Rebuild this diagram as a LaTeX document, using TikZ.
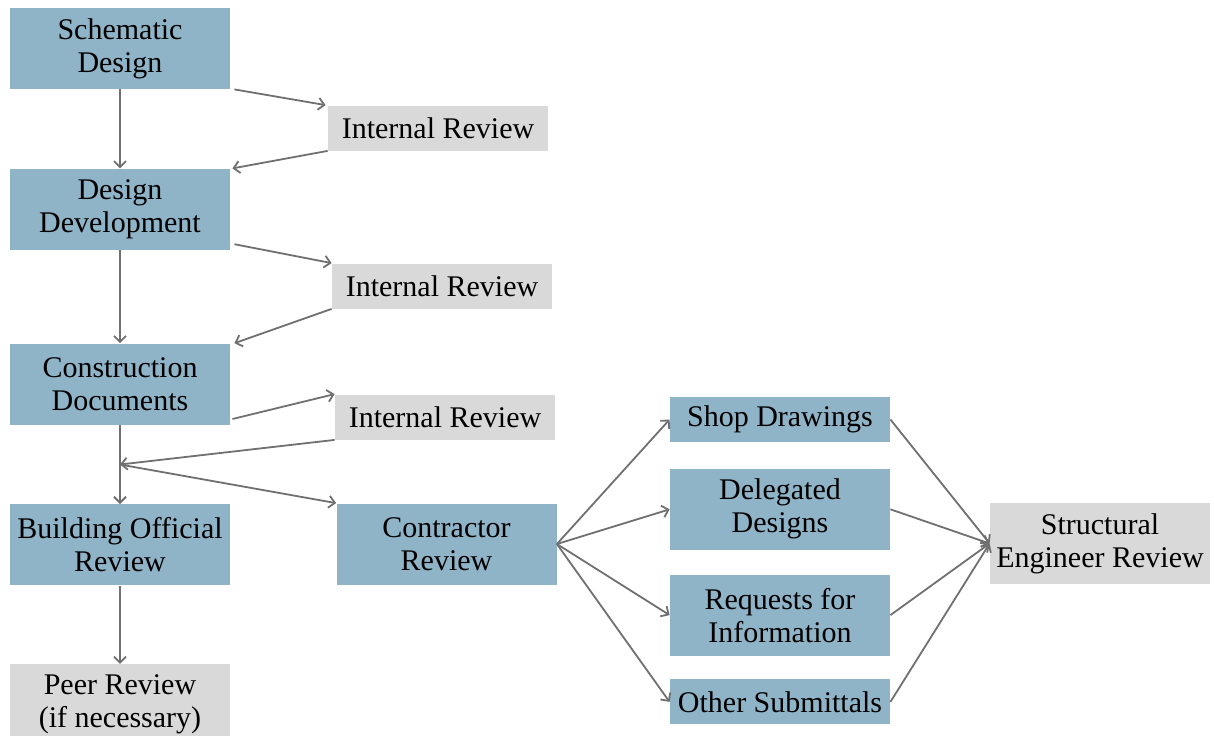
\documentclass[tikz,border=0pt]{standalone}
\usepackage{fontspec}
\setmainfont{Liberation Serif}
\usetikzlibrary{positioning,arrows.meta}

\definecolor{phaseblue}{RGB}{143,179,199}
\definecolor{reviewgray}{RGB}{217,217,217}
\definecolor{linkgray}{RGB}{112,112,112}

\begin{document}
\begin{tikzpicture}[
    x=0.5pt, y=-0.5pt,
    box/.style={rectangle, minimum width=110pt, inner sep=2pt, align=center, font=\fontsize{15}{16.5}\selectfont},
    phase/.style={box, fill=phaseblue, minimum height=40.5pt},
    review/.style={box, fill=reviewgray, minimum height=40.5pt},
    slim/.style={minimum height=22.5pt},
    arrow/.style={-{Straight Barb[length=3pt,width=6pt]}, draw=linkgray, line width=0.9pt}
]
    \useasboundingbox (0,0) rectangle (1214,735);

    % design phases down the left
    \node[phase] (sd) at (120,48.5) {Schematic\\Design};
    \node[phase, below=39.5pt of sd] (dd) {Design\\Development};
    \node[phase, below=46.5pt of dd] (cd) {Construction\\Documents};
    \node[phase, below=39.5pt of cd] (bor) {Building Official\\Review};
    \node[review, below=39pt of bor] (peer) {Peer Review\\(if necessary)};

    % internal reviews
    \node[review, slim] (ir1) at (438,128) {Internal Review};
    \node[review, slim] (ir2) at (442,286) {Internal Review};
    \node[review, slim] (ir3) at (445,417) {Internal Review};

    % construction phase
    \node[phase] (cr) at (446.5,544) {Contractor\\Review};
    \node[phase, slim] (shop) at (780,419.5) {Shop Drawings};
    \node[phase, below=13pt of shop] (del) {Delegated\\Designs};
    \node[phase, below=12pt of del] (req) {Requests for\\Information};
    \node[phase, slim, below=11.5pt of req] (oth) {Other Submittals};
    \node[review] (se) at (1100,543.5) {Structural\\Engineer Review};

    \draw[arrow] (sd) -- (dd);
    \draw[arrow] ([xshift=2pt]sd.south east) -- ([xshift=-1pt]ir1.north west);
    \draw[arrow] (ir1.south west) -- ([xshift=1pt]dd.north east);
    \draw[arrow] (dd) -- (cd);
    \draw[arrow] ([shift={(2pt,3pt)}]dd.south east) -- (ir2.north west);
    \draw[arrow] (ir2.south west) -- ([xshift=2pt]cd.north east);
    \draw[arrow] ([shift={(1pt,3pt)}]cd.south east) -- (ir3.north west);
    \path (cd.south) -- coordinate[midway] (jn) (bor.north);
    \draw[arrow] (cd) -- (bor);
    \draw[arrow] (ir3.south west) -- (jn);
    \draw[arrow] (jn) -- (cr.north west);
    \draw[arrow] (bor) -- (peer);
    \foreach \n in {shop,del,req,oth} {
        \draw[arrow] (cr.east) -- (\n.west);
        \draw[arrow] (\n.east) -- (se.west);
    }
\end{tikzpicture}
\end{document}
